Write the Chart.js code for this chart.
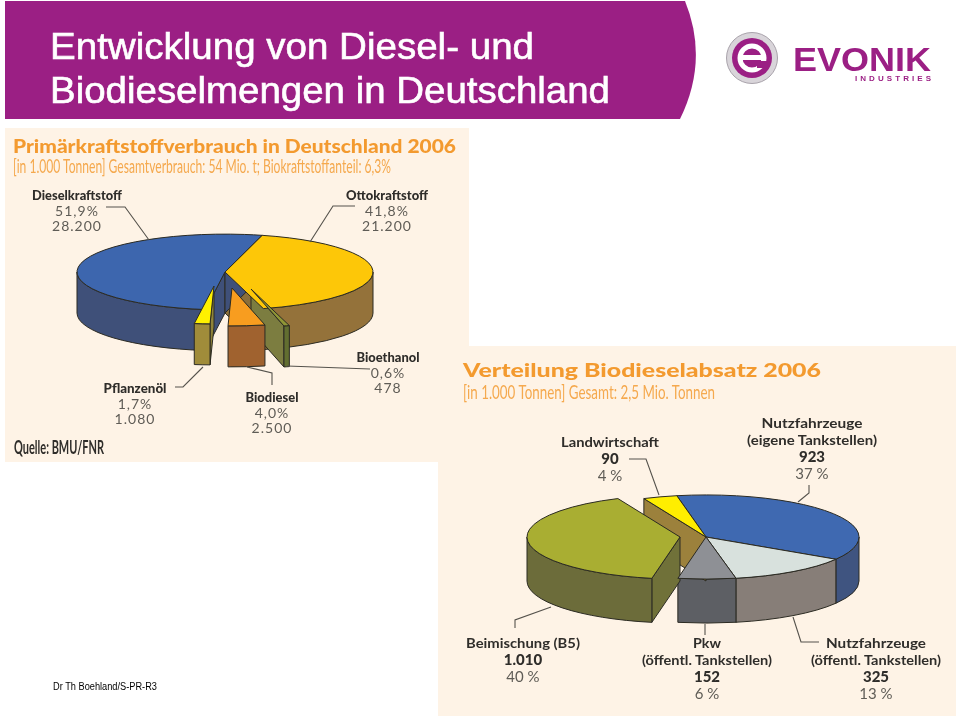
<!DOCTYPE html>
<html lang="de">
<head>
<meta charset="utf-8">
<title>Entwicklung von Diesel- und Biodieselmengen in Deutschland</title>
<script src="https://cdn.jsdelivr.net/npm/chart.js@4"></script>
<style>
  html, body { margin: 0; padding: 0; background: #fff; }
  #page { position: relative; width: 960px; height: 716px; overflow: hidden; }
  #page > svg, #page > canvas { position: absolute; }
  text { font-family: "Liberation Sans", Arial, sans-serif; }
</style>
</head>
<body>
<div id="page">
  <svg id="back" width="960" height="716" style="left:0;top:0">
    <path d="M5 1 H685 Q709 60 680 119 H5 Z" fill="#9b1f84"/>
    <rect x="5" y="128" width="464" height="334" fill="#fef3e6"/>
    <rect x="438" y="346" width="518" height="370" fill="#fef3e6"/>
    <circle cx="752" cy="58" r="25.5" fill="#d9d5da" stroke="#a9a3ab"/>
    <circle cx="752" cy="58" r="20" fill="#9b1f84"/>
    <circle cx="752" cy="58" r="12" fill="none" stroke="#fff" stroke-width="5"/>
    <rect x="742" y="55" width="22" height="5" fill="#fff"/>
    <rect x="757" y="61" width="12" height="7" fill="#9b1f84"/>
  </svg>
  <canvas id="fuelPie" width="400" height="300" style="left:25px;top:122px"></canvas>
  <canvas id="salesPie" width="400" height="300" style="left:506px;top:387px"></canvas>
  <svg id="front" width="960" height="716" style="left:0;top:0"></svg>
</div>
<script>
// values
const fuelNames = ['Ottokraftstoff', 'Bioethanol', 'Biodiesel', 'Pflanzenöl', 'Dieselkraftstoff'];
const fuelPercent = [41.8, 0.6, 4.0, 1.7, 51.9];
const fuelPercentText = ['41,8%', '0,6%', '4,0%', '1,7%', '51,9%'];
const fuelTonnesText = ['21.200', '478', '2.500', '1.080', '28.200'];

const salesNames = ['Nutzfahrzeuge', 'Nutzfahrzeuge', 'Pkw', 'Beimischung (B5)', 'Landwirtschaft'];
const salesWhere = ['(eigene Tankstellen)', '(öffentl. Tankstellen)', '(öffentl. Tankstellen)', '', ''];
const salesTonnes = [923, 325, 152, 1010, 90];
const salesTonnesText = ['923', '325', '152', '1.010', '90'];
const salesPercentText = ['37 %', '13 %', '6 %', '40 %', '4 %'];

// draws the slices as a tilted cake: cut faces and rim first, top faces last
function pie3d(look) {
  return {
    id: 'pie3d',
    beforeDatasetsDraw(chart) {
      const ctx = chart.ctx;
      const arcs = chart.getDatasetMeta(0).data;
      const k = look.squash;
      const depth = look.depth;

      function face(i, cx, cy, r, ang) {
        const x = cx + Math.cos(ang) * r;
        const y = cy + Math.sin(ang) * r * k;
        ctx.beginPath();
        ctx.moveTo(cx, cy);
        ctx.lineTo(x, y);
        ctx.lineTo(x, y + depth);
        ctx.lineTo(cx, cy + depth);
        ctx.closePath();
        ctx.fillStyle = look.cut[i];
        ctx.fill();
        ctx.stroke();
      }

      ctx.save();
      ctx.strokeStyle = look.edge;
      ctx.lineWidth = 1;
      ctx.lineJoin = 'round';
      look.order.forEach(function(i) {
        const a = arcs[i];
        const cx = a.x + look.shift[i][0];
        const cy = a.y + look.shift[i][1];
        const r = a.outerRadius;
        if (Math.cos(a.startAngle) < 0) face(i, cx, cy, r, a.startAngle);
        if (Math.cos(a.endAngle) > 0) face(i, cx, cy, r, a.endAngle);
        // the rim only shows on the lower half of the ellipse
        for (let n = -1; n <= 1; n++) {
          const lo = Math.max(a.startAngle, 2 * Math.PI * n);
          const hi = Math.min(a.endAngle, Math.PI + 2 * Math.PI * n);
          if (lo >= hi) continue;
          ctx.beginPath();
          ctx.ellipse(cx, cy, r, r * k, 0, lo, hi);
          ctx.ellipse(cx, cy + depth, r, r * k, 0, hi, lo, true);
          ctx.closePath();
          ctx.fillStyle = look.wall[i];
          ctx.fill();
          ctx.stroke();
        }
      });
      look.order.forEach(function(i) {
        const a = arcs[i];
        const cx = a.x + look.shift[i][0];
        const cy = a.y + look.shift[i][1];
        ctx.save();
        ctx.translate(cx, cy);
        ctx.scale(1, k);
        ctx.translate(-a.x, -a.y);
        a.draw(ctx);
        ctx.restore();
        ctx.beginPath();
        ctx.moveTo(cx, cy);
        ctx.ellipse(cx, cy, a.outerRadius, a.outerRadius * k, 0, a.startAngle, a.endAngle);
        ctx.closePath();
        ctx.stroke();
      });
      ctx.restore();
      return false;
    }
  };
}

function makePie(id, labels, values, tops, radius, rotation, look) {
  return new Chart(document.getElementById(id), {
    type: 'pie',
    data: {
      labels: labels,
      datasets: [{ data: values, backgroundColor: tops, borderWidth: 0 }]
    },
    options: {
      responsive: false,
      animation: false,
      radius: radius,
      rotation: rotation,
      events: [],
      plugins: { legend: { display: false }, tooltip: { enabled: false } }
    },
    plugins: [pie3d(look)]
  });
}

makePie('fuelPie', fuelNames, fuelPercent,
  ['#fdc708', '#8f9636', '#f89d1f', '#fff100', '#3d66ae'], 148, 14.5, {
    squash: 0.256,
    depth: 41,
    edge: '#2b2a22',
    order: [0, 4, 1, 2, 3],
    shift: [[0, 0], [26, 17], [7, 16], [-11, 14], [0, 0]],
    wall: ['#94723a', '#626e30', '#a0622f', '#a08c3a', '#3f5079'],
    cut: ['#8c6f3a', '#7c7d40', '#a0622f', '#8f8339', '#3f5079']
  });

makePie('salesPie', salesNames, salesTonnes,
  ['#3f69b1', '#d8e1dd', '#8e9095', '#a9ae32', '#ffee00'], 153, -11, {
    squash: 0.275,
    depth: 44,
    edge: '#2b2a22',
    order: [0, 1, 2, 4, 3],
    shift: [[0, 0], [0, 0], [0, 0], [-26, 0], [0, 0]],
    wall: ['#3f5480', '#877e78', '#5d5f64', '#6c6c3a', '#9c813c'],
    cut: ['#3f5480', '#877e78', '#5d5f64', '#707139', '#9c813c']
  });

// texts and leader lines
const front = document.getElementById('front');
function addText(str, x, y, size, fill, opts) {
  opts = opts || {};
  const t = document.createElementNS('http://www.w3.org/2000/svg', 'text');
  t.textContent = str;
  t.setAttribute('x', x);
  t.setAttribute('y', y);
  t.setAttribute('font-size', size);
  t.setAttribute('fill', fill);
  if (opts.bold) t.setAttribute('font-weight', opts.bold === true ? 'bold' : opts.bold);
  if (opts.family) t.style.fontFamily = opts.family;
  if (opts.middle) t.setAttribute('text-anchor', 'middle');
  if (opts.width) {
    t.setAttribute('textLength', opts.width);
    t.setAttribute('lengthAdjust', opts.spread ? 'spacing' : 'spacingAndGlyphs');
  }
  if (opts.spacing) t.setAttribute('letter-spacing', opts.spacing);
  if (opts.heavy) {
    t.setAttribute('stroke', fill);
    t.setAttribute('stroke-width', opts.heavy);
  }
  front.appendChild(t);
}
function addLine(points) {
  const p = document.createElementNS('http://www.w3.org/2000/svg', 'polyline');
  p.setAttribute('points', points);
  p.setAttribute('fill', 'none');
  p.setAttribute('stroke', '#55524c');
  p.setAttribute('stroke-width', '1.1');
  front.appendChild(p);
}

const HEAD = '#f39a2f', SUB = '#f5a94e', DARK = '#2f2d2a', SOFT = '#5f5c56';
const ROUND = 'Lato, "Open Sans", sans-serif';

addText('Entwicklung von Diesel- und', 50, 59, 37, '#fff', { width: 484, heavy: 0.6 });
addText('Biodieselmengen in Deutschland', 50, 103, 37, '#fff', { width: 560, heavy: 0.6 });
addText('EVONIK', 793, 71, 34, '#9b1f84', { bold: true, width: 138 });
addText('INDUSTRIES', 855, 81, 8, '#9b1f84', { bold: true, width: 76, spread: true });
addText('Dr Th Boehland/S-PR-R3', 53, 690, 10, '#000', { width: 104 });

// first panel
addText('Primärkraftstoffverbrauch in Deutschland 2006', 13, 153, 19, HEAD, { bold: 900, family: ROUND, width: 443 });
addText('[in 1.000 Tonnen] Gesamtverbrauch: 54 Mio. t; Biokraftstoffanteil: 6,3%', 13, 173, 18.5, SUB, { family: ROUND, width: 378 });
addText('Quelle: BMU/FNR', 14, 454, 18.5, DARK, { family: ROUND, bold: true, width: 90 });

const fuelLabelSpots = [[387, 200, 82], [388, 362, 63], [272, 402, 53], [135, 393, 63], [77, 200, 90]];
fuelNames.forEach(function(name, i) {
  const s = fuelLabelSpots[i];
  addText(name, s[0], s[1], 12.5, DARK, { bold: 900, family: ROUND, middle: true, width: s[2] });
  addText(fuelPercentText[i], s[0], s[1] + 16, 14, SOFT, { family: ROUND, middle: true, spacing: 1 });
  addText(fuelTonnesText[i], s[0], s[1] + 31, 14, SOFT, { family: ROUND, middle: true, spacing: 1 });
});
addLine('106,207 125,207 149,240');
addLine('355,206 333,206 310,242');
addLine('287,366 370,369');
addLine('247,367 272,373 272,385');
addLine('175,387 183,387 203,367');

// second panel
addText('Verteilung Biodieselabsatz 2006', 463, 377, 19, HEAD, { bold: 900, family: ROUND, width: 358 });
addText('[in 1.000 Tonnen] Gesamt: 2,5 Mio. Tonnen', 463, 399, 18.5, SUB, { family: ROUND, width: 252 });

const salesLabelSpots = [[812, 428, 101], [876, 648, 100], [707, 648, 28], [523, 648, 114], [610, 447, 98]];
salesNames.forEach(function(name, i) {
  const s = salesLabelSpots[i];
  let y = s[1];
  addText(name, s[0], y, 13.5, DARK, { bold: true, family: ROUND, middle: true, width: s[2] });
  if (salesWhere[i]) {
    y += 17;
    addText(salesWhere[i], s[0], y, 13.5, DARK, { bold: true, family: ROUND, middle: true, width: 130 });
  }
  addText(salesTonnesText[i], s[0], y + 17, 15, DARK, { bold: 900, family: ROUND, middle: true });
  addText(salesPercentText[i], s[0], y + 34, 15, SOFT, { family: ROUND, middle: true });
});
addLine('629,459 646,459 659,495');
addLine('809,485 809,493 798,502');
addLine('515,628 515,620 551,607');
addLine('705,624 705,635');
addLine('793,617 801,642 819,642');
</script>
</body>
</html>
